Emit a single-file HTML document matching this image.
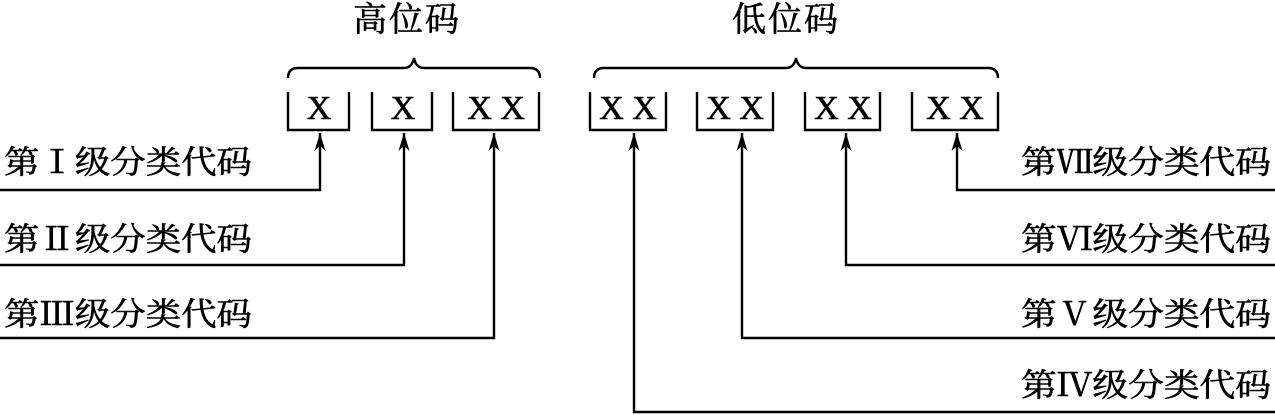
<!DOCTYPE html>
<html><head><meta charset="utf-8"><style>
html,body{margin:0;padding:0;background:#fff;}
svg{display:block;}
text{font-family:"Liberation Serif","Noto Serif CJK SC",serif;fill:#000;stroke:#000;stroke-width:0.6;}
</style></head><body>
<svg width="1275" height="415" viewBox="0 0 1275 415" xmlns="http://www.w3.org/2000/svg">
<defs>
<marker id="ah" viewBox="0 0 18 12" refX="18" refY="6" markerWidth="18" markerHeight="12" markerUnits="userSpaceOnUse" orient="auto"><path d="M0,0.5 L18,6 L0,11.5 L5,6 Z" fill="#000"/></marker></defs>
<g font-size="34" text-anchor="middle">
<text x="406" y="31" textLength="106">高位码</text>
<text x="785" y="31" textLength="106">低位码</text>
</g>
<g fill="none" stroke="#000" stroke-width="2.4">
<path d="M288,78 Q288,68 298,68 L404,68 Q412,68 414,58 Q416,68 424,68 L530,68 Q540,68 540,78"/>
<path d="M594,78 Q594,68 604,68 L786,68 Q794,68 796,58 Q798,68 806,68 L988,68 Q998,68 998,78"/>
<path d="M288,92 V130 H349 V92"/>
<path d="M372,92 V130 H432 V92"/>
<path d="M453,92 V130 H539 V92"/>
<path d="M590,92 V130 H666 V92"/>
<path d="M697,92 V130 H773 V92"/>
<path d="M805,92 V130 H880 V92"/>
<path d="M912,92 V130 H998 V92"/>
<path d="M0,190 H320 V133" marker-end="url(#ah)"/>
<path d="M0,265 H404 V133" marker-end="url(#ah)"/>
<path d="M0,338 H494 V133" marker-end="url(#ah)"/>
<path d="M1275,412 H634 V133" marker-end="url(#ah)"/>
<path d="M1275,338 H742 V133" marker-end="url(#ah)"/>
<path d="M1275,265 H846 V133" marker-end="url(#ah)"/>
<path d="M1275,190 H957 V133" marker-end="url(#ah)"/>
</g>
<g font-size="34" text-anchor="middle">
<text x="319" y="119">X</text>
<text x="403" y="119">X</text>
<text x="496" y="119">X X</text>
<text x="628" y="119">X X</text>
<text x="735" y="119">X X</text>
<text x="843" y="119">X X</text>
<text x="955" y="119">X X</text>
</g>
<g font-size="32">
<text x="4" y="173" textLength="248" lengthAdjust="spacingAndGlyphs">第Ⅰ级分类代码</text>
<text x="4" y="250" textLength="248" lengthAdjust="spacingAndGlyphs">第Ⅱ级分类代码</text>
<text x="4" y="325" textLength="248" lengthAdjust="spacingAndGlyphs">第Ⅲ级分类代码</text>
<text x="1021" y="173" textLength="250" lengthAdjust="spacingAndGlyphs">第Ⅶ级分类代码</text>
<text x="1021" y="250" textLength="250" lengthAdjust="spacingAndGlyphs">第Ⅵ级分类代码</text>
<text x="1021" y="325" textLength="250" lengthAdjust="spacingAndGlyphs">第Ⅴ级分类代码</text>
<text x="1021" y="396" textLength="250" lengthAdjust="spacingAndGlyphs">第Ⅳ级分类代码</text>
</g>
</svg>
</body></html>
